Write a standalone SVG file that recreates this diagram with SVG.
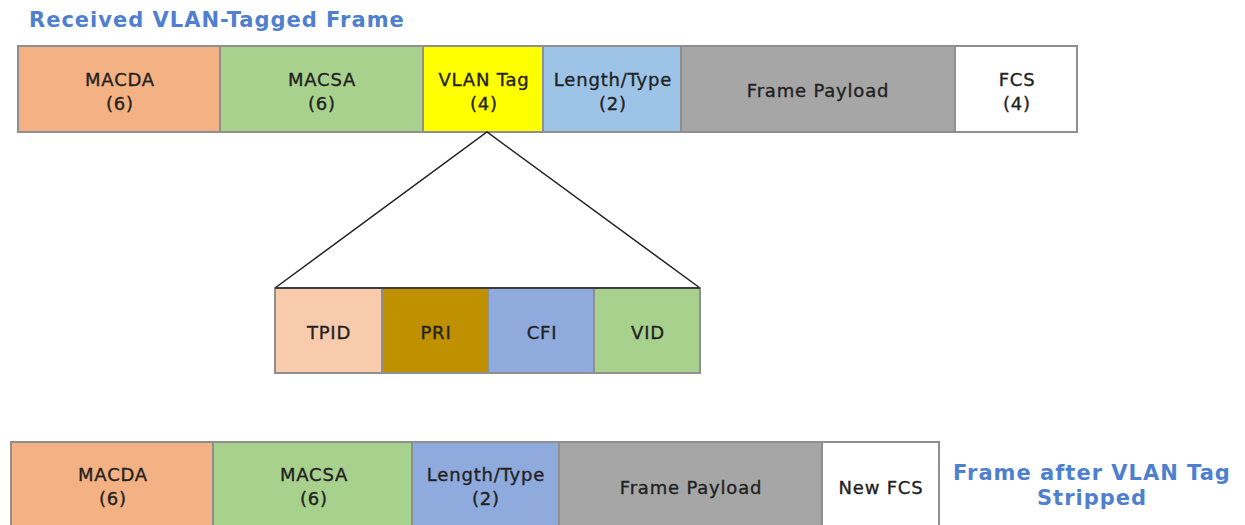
<svg xmlns="http://www.w3.org/2000/svg" width="1245" height="525" viewBox="0 0 1245 525">
<style>
.cell{stroke:#8f8f8f;stroke-width:2}
.lbl{font-family:"DejaVu Sans","Liberation Sans",sans-serif;font-size:18px;letter-spacing:0.8px;fill:#222;stroke:#222;stroke-width:0.35;text-anchor:middle}
.ttl{font-family:"DejaVu Sans","Liberation Sans",sans-serif;font-size:21px;letter-spacing:1px;font-weight:bold;fill:#4f7fcf}
.conn{stroke:#222;stroke-width:1.5;fill:none}
</style>
<rect width="1245" height="525" fill="#fff"/>
<text class="ttl" x="29" y="27">Received VLAN-Tagged Frame</text>

<g id="top-frame">
<g id="t-macda"><rect class="cell" x="18" y="46" width="202" height="86" fill="#F4B183"/><text class="lbl" x="120" y="86">MACDA</text><text class="lbl" x="120" y="110">(6)</text></g>
<g id="t-macsa"><rect class="cell" x="220" y="46" width="203" height="86" fill="#A9D18E"/><text class="lbl" x="322" y="86">MACSA</text><text class="lbl" x="322" y="110">(6)</text></g>
<g id="t-vlan"><rect class="cell" x="423" y="46" width="120" height="86" fill="#FFFF00"/><text class="lbl" x="484" y="86">VLAN Tag</text><text class="lbl" x="484" y="110">(4)</text></g>
<g id="t-lt"><rect class="cell" x="543" y="46" width="138" height="86" fill="#9DC3E6"/><text class="lbl" x="613" y="86">Length/Type</text><text class="lbl" x="613" y="110">(2)</text></g>
<g id="t-payload"><rect class="cell" x="681" y="46" width="274" height="86" fill="#A6A6A6"/><text class="lbl" x="818" y="97">Frame Payload</text></g>
<g id="t-fcs"><rect class="cell" x="955" y="46" width="122" height="86" fill="#FFFFFF"/><text class="lbl" x="1017" y="86">FCS</text><text class="lbl" x="1017" y="110">(4)</text></g>
</g>

<g id="connectors">
<polyline class="conn" points="275,288 487,132 700,288"/>
</g>

<g id="tag-fields">
<g id="f-tpid"><rect class="cell" x="275" y="288" width="107" height="85" fill="#F8CBAD"/><text class="lbl" x="329" y="339">TPID</text></g>
<g id="f-pri"><rect class="cell" x="382" y="288" width="106" height="85" fill="#BF9000"/><text class="lbl" x="436" y="339">PRI</text></g>
<g id="f-cfi"><rect class="cell" x="488" y="288" width="106" height="85" fill="#8FAADC"/><text class="lbl" x="542" y="339">CFI</text></g>
<g id="f-vid"><rect class="cell" x="594" y="288" width="106" height="85" fill="#A9D18E"/><text class="lbl" x="648" y="339">VID</text></g>
<line class="conn" x1="275" y1="288" x2="700" y2="288"/>
</g>

<g id="bottom-frame">
<g id="b-macda"><rect class="cell" x="11" y="442" width="202" height="90" fill="#F4B183"/><text class="lbl" x="113" y="481">MACDA</text><text class="lbl" x="113" y="505">(6)</text></g>
<g id="b-macsa"><rect class="cell" x="213" y="442" width="199" height="90" fill="#A9D18E"/><text class="lbl" x="314" y="481">MACSA</text><text class="lbl" x="314" y="505">(6)</text></g>
<g id="b-lt"><rect class="cell" x="412" y="442" width="147" height="90" fill="#8FAADC"/><text class="lbl" x="486" y="481">Length/Type</text><text class="lbl" x="486" y="505">(2)</text></g>
<g id="b-payload"><rect class="cell" x="559" y="442" width="263" height="90" fill="#A6A6A6"/><text class="lbl" x="691" y="494">Frame Payload</text></g>
<g id="b-fcs"><rect class="cell" x="822" y="442" width="117" height="90" fill="#FFFFFF"/><text class="lbl" x="881" y="494">New FCS</text></g>
</g>

<g id="caption">
<text class="ttl" x="1092" y="480" text-anchor="middle">Frame after VLAN Tag</text>
<text class="ttl" x="1092" y="505" text-anchor="middle">Stripped</text>
</g>
</svg>
